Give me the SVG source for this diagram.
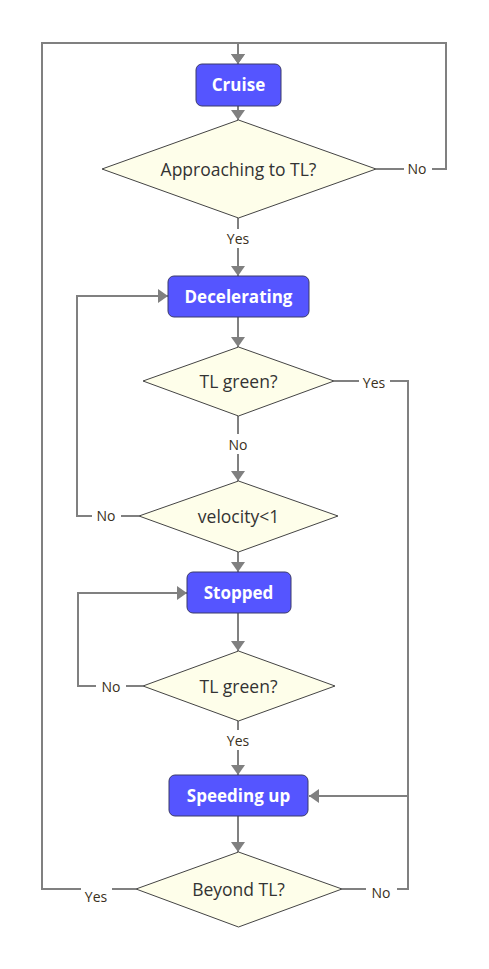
<svg xmlns="http://www.w3.org/2000/svg" width="489" height="969" viewBox="0 0 489 969">
<style>
.box{fill:#5555FF;stroke:#3a3a6a;stroke-width:1}
.dia{fill:#FEFEEA;stroke:#444;stroke-width:1}
.bt{font-family:"Open Sans",sans-serif;font-weight:bold;font-size:17px;fill:#fff;text-anchor:middle;dominant-baseline:central}
.dt{font-family:"Open Sans",sans-serif;font-size:17.5px;fill:#333;text-anchor:middle;dominant-baseline:central}
.lt{font-family:"Open Sans",sans-serif;font-size:14px;fill:#3a3020;text-anchor:middle;dominant-baseline:central}
.c{fill:none;stroke:#808080;stroke-width:2}
.lb{fill:#fff}
</style>
<defs>
<marker id="ah" markerUnits="userSpaceOnUse" markerWidth="11" markerHeight="14" refX="10" refY="7" orient="auto">
<path d="M0,0 L10,7 L0,14 z" fill="#808080"/>
</marker>
</defs>
<g id="connectors">
<path class="c" d="M376,169 H446 V43 H238 V64" marker-end="url(#ah)"/>
<path class="c" d="M136,889 H42 V43 H238 V64" marker-end="url(#ah)"/>
<path class="c" d="M238,106 V120" marker-end="url(#ah)"/>
<path class="c" d="M238,218 V276" marker-end="url(#ah)"/>
<path class="c" d="M238,317 V347" marker-end="url(#ah)"/>
<path class="c" d="M238,416 V481" marker-end="url(#ah)"/>
<path class="c" d="M334,381 H408 V796 H309" marker-end="url(#ah)"/>
<path class="c" d="M139,516 H77 V296 H168" marker-end="url(#ah)"/>
<path class="c" d="M238,552 V572" marker-end="url(#ah)"/>
<path class="c" d="M238,613 V651" marker-end="url(#ah)"/>
<path class="c" d="M143,686 H78 V593 H187" marker-end="url(#ah)"/>
<path class="c" d="M238,721 V775" marker-end="url(#ah)"/>
<path class="c" d="M238,816 V852" marker-end="url(#ah)"/>
<path class="c" d="M342,889 H408 V796"/>
<rect class="lb" x="404" y="159" width="28" height="19"/>
<text class="lt" x="417" y="168">No</text>
<rect class="lb" x="223" y="229" width="31" height="19"/>
<text class="lt" x="238" y="238.5">Yes</text>
<rect class="lb" x="359" y="373" width="31" height="19"/>
<text class="lt" x="374" y="382.5">Yes</text>
<rect class="lb" x="224" y="434" width="28" height="20"/>
<text class="lt" x="238" y="444">No</text>
<rect class="lb" x="92" y="506" width="29" height="20"/>
<text class="lt" x="106" y="515.5">No</text>
<rect class="lb" x="96" y="676" width="30" height="20"/>
<text class="lt" x="111" y="686.5">No</text>
<rect class="lb" x="223" y="730" width="31" height="20"/>
<text class="lt" x="238" y="740">Yes</text>
<rect class="lb" x="366" y="882" width="31" height="20"/>
<text class="lt" x="381" y="892.5">No</text>
<rect class="lb" x="81" y="886" width="31" height="20"/>
<text class="lt" x="96" y="896">Yes</text>
</g>
<g id="cruise">
<rect class="box" x="196" y="64" width="85" height="42" rx="6"/>
<text class="bt" x="238.5" y="84.5">Cruise</text>
</g>
<g id="approaching">
<polygon class="dia" points="238.5,120 376,169 238.5,218 102,169"/>
<text class="dt" x="238.5" y="169">Approaching to TL?</text>
</g>
<g id="decelerating">
<rect class="box" x="168" y="276" width="141" height="41" rx="6"/>
<text class="bt" x="238.5" y="296">Decelerating</text>
</g>
<g id="tlgreen1">
<polygon class="dia" points="238.5,347 334,381 238.5,416 143,381"/>
<text class="dt" x="238.5" y="381">TL green?</text>
</g>
<g id="velocity">
<polygon class="dia" points="238.5,481 338,516 238.5,552 139,516"/>
<text class="dt" x="238.5" y="516">velocity&lt;1</text>
</g>
<g id="stopped">
<rect class="box" x="187" y="572" width="104" height="41" rx="6"/>
<text class="bt" x="238.5" y="592.5">Stopped</text>
</g>
<g id="tlgreen2">
<polygon class="dia" points="238.5,651 335,686 238.5,721 143,686"/>
<text class="dt" x="238.5" y="686">TL green?</text>
</g>
<g id="speeding">
<rect class="box" x="169" y="775" width="139" height="41" rx="6"/>
<text class="bt" x="238.5" y="795.5">Speeding up</text>
</g>
<g id="beyond">
<polygon class="dia" points="238.5,852 342,889 238.5,927 136,889"/>
<text class="dt" x="238.5" y="889">Beyond TL?</text>
</g>
</svg>
